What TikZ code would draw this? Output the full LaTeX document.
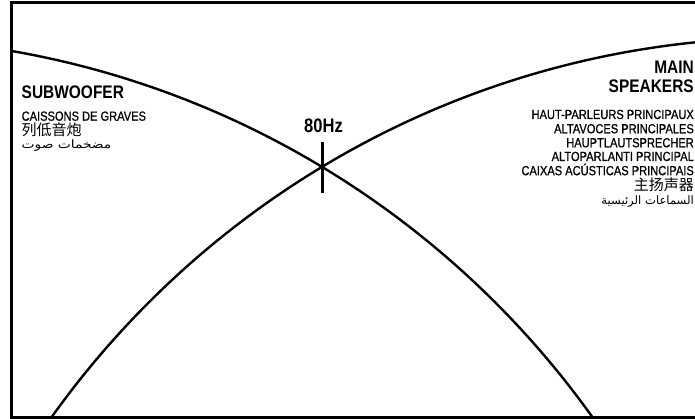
\documentclass[tikz,border=0pt]{standalone}
\usepackage{fontspec}
\setmainfont[FakeStretch=0.85]{Liberation Sans}
\newfontfamily\subfont[FakeStretch=0.84,FakeBold=0.8]{Liberation Sans}
\newfontfamily\cjkfont{Noto Sans CJK SC}
\newfontfamily\arabicfont[Script=Arabic]{DejaVu Sans}
\newfontfamily\arabicwide[Script=Arabic,FakeStretch=1.2]{DejaVu Sans}
\TeXXeTstate=1
\begin{document}
\begin{tikzpicture}[x=1pt,y=-1pt,
  curve/.style={line width=2.4pt},
  frameline/.style={line width=3pt},
  tickline/.style={line width=3pt},
  title/.style={font=\fontsize{18.2}{20}\selectfont\bfseries, inner sep=0pt},
  sub/.style={font=\subfont\fontsize{13.2}{15}\selectfont, inner sep=0pt},
  zh/.style={font=\cjkfont\fontsize{15}{16}\selectfont, inner sep=0pt},
  ar/.style={font=\arabicfont\fontsize{11.6}{12}\selectfont, inner sep=0pt},
  arw/.style={font=\arabicwide\fontsize{11.5}{12}\selectfont, inner sep=0pt}]
\useasboundingbox (0,0) rectangle (695,419);
\begin{scope}
  \clip (11.3,2.5) rectangle (700,417.5);
  \draw[curve] (-144.3,942.2) circle[radius=904.6];
  \draw[curve] (788.3,942.2) circle[radius=904.6];
\end{scope}
\draw[frameline] (705,2.5) -- (11.3,2.5) -- (11.3,417.5) -- (705,417.5);
% tick
\coordinate (ttop) at (322,142);
\coordinate (tbot) at (322,193);
\draw[tickline] (ttop) -- (tbot);
\node[font=\fontsize{19.5}{21}\selectfont\bfseries, inner sep=0pt, anchor=base] (hz) at (323.5,133) {80Hz};
% left block
\node[title, anchor=base west] (subtitle) at (21.5,99) {SUBWOOFER};
\node[sub, anchor=base west] (subfr) at (21.5,120.7) {CAISSONS DE GRAVES};
\node[zh, anchor=base west] (subzh) at (21.5,136) {列低音炮};
\node[arw, anchor=base west] (subar) at (21.5,149) {\beginR مضخمات صوت\endR};
% right block
\node[title, anchor=base east] (main1) at (694,73.5) {MAIN};
\node[title, anchor=base east] (main2) at (694,92.7) {SPEAKERS};
\node[sub, anchor=base east] (mfr) at (694,119) {HAUT-PARLEURS PRINCIPAUX};
\node[sub, anchor=base east] (mes) at (694,133.3) {ALTAVOCES PRINCIPALES};
\node[sub, anchor=base east] (mde) at (694,147.3) {HAUPTLAUTSPRECHER};
\node[sub, anchor=base east] (mit) at (694,161) {ALTOPARLANTI PRINCIPAL};
\node[sub, anchor=base east] (mpt) at (694,175.2) {CAIXAS ACÚSTICAS PRINCIPAIS};
\node[zh, anchor=base east] (mzh) at (694,191) {主扬声器};
\node[ar, anchor=base east] (mar) at (694,205) {\beginR السماعات الرئيسية\endR};
\end{tikzpicture}
\end{document}
